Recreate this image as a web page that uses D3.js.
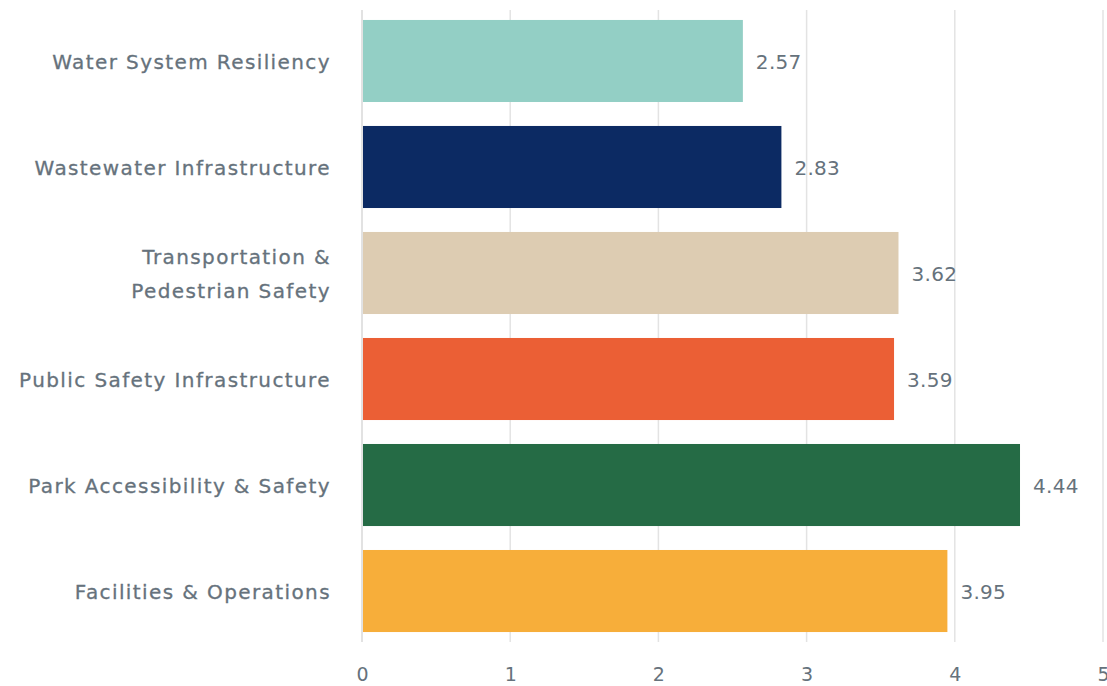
<!DOCTYPE html>
<html>
<head>
<meta charset="utf-8">
<script src="https://cdn.jsdelivr.net/npm/d3@7"></script>
<style>
  body { margin: 0; background: #fff; }
  text { font-family: "DejaVu Sans", sans-serif; fill: #66727c; }
</style>
</head>
<body>
<div class="chart"></div>
<script>
const w = 1107;
const h = 686;

const categories = [
  'Water System Resiliency',
  'Wastewater Infrastructure',
  'Transportation &\nPedestrian Safety',
  'Public Safety Infrastructure',
  'Park Accessibility & Safety',
  'Facilities & Operations'
];
const values = [2.57, 2.83, 3.62, 3.59, 4.44, 3.95];
const colors = ['#93cfc5', '#0c2a63', '#ddccb2', '#eb5f35', '#256b45', '#f7ae3a'];
const ticks = [0, 1, 2, 3, 4, 5];

const plotLeft = 362, plotRight = 1103, plotTop = 10, plotBottom = 642;

var svg = d3.select('.chart')
  .append('svg')
  .attr('width', w)
  .attr('height', h);

const xScale = d3.scaleLinear().domain([0, 5]).range([plotLeft, plotRight]);
const yScale = d3.scaleBand()
  .domain(categories)
  .range([plotTop, plotBottom])
  .paddingInner(0.226)
  .paddingOuter(0.094);

// gridlines
svg.append('g')
  .selectAll('line')
  .data(ticks.slice(1))
  .enter()
  .append('line')
  .attr('x1', d => xScale(d))
  .attr('x2', d => xScale(d))
  .attr('y1', plotTop)
  .attr('y2', plotBottom)
  .attr('stroke', '#e3e3e3')
  .attr('stroke-width', 1.5);

// baseline
svg.append('line')
  .attr('x1', xScale(0))
  .attr('x2', xScale(0))
  .attr('y1', plotTop)
  .attr('y2', plotBottom)
  .attr('stroke', '#d9d9d9')
  .attr('stroke-width', 1.5);

// tick labels
const xAxis = d3.axisBottom(xScale).tickValues(ticks).tickFormat(d3.format('d')).tickSize(0).tickPadding(26);
const gx = svg.append('g')
  .attr('transform', 'translate(0,' + plotBottom + ')')
  .call(xAxis);
gx.select('.domain').remove();
gx.selectAll('text')
  .style('font-family', '"DejaVu Sans", sans-serif')
  .style('font-size', '19px')
  .attr('fill', '#66727c');

svg.selectAll('rect.bar')
  .data(values)
  .enter()
  .append('rect')
  .attr('class', 'bar')
  .attr('x', xScale(0) + 1)
  .attr('y', (d, i) => yScale(categories[i]))
  .attr('width', d => xScale(d) - xScale(0) - 1)
  .attr('height', yScale.bandwidth())
  .style('fill', (d, i) => colors[i]);

// value labels
svg.selectAll('text.val')
  .data(values)
  .enter()
  .append('text')
  .attr('class', 'val')
  .attr('x', d => xScale(d) + 13)
  .attr('y', (d, i) => yScale(categories[i]) + yScale.bandwidth() / 2)
  .attr('dy', '0.4em')
  .style('font-size', '20px')
  .style('letter-spacing', '0.3px')
  .text(d => d.toFixed(2));

// category labels
const labels = svg.selectAll('text.cat')
  .data(categories)
  .enter()
  .append('text')
  .attr('class', 'cat')
  .attr('text-anchor', 'end')
  .attr('x', 331)
  .attr('y', d => yScale(d) + yScale.bandwidth() / 2)
  .style('font-size', '20px')
  .style('letter-spacing', '1.4px')
  .style('stroke', '#66727c')
  .style('stroke-width', 0.3);

labels.each(function (d) {
  const lines = d.split('\n');
  const el = d3.select(this);
  lines.forEach(function (line, j) {
    el.append('tspan')
      .attr('x', 331)
      .attr('dy', j === 0 ? (0.4 - (lines.length - 1) * 0.83) + 'em' : '1.66em')
      .text(line);
  });
});
</script>
</body>
</html>
